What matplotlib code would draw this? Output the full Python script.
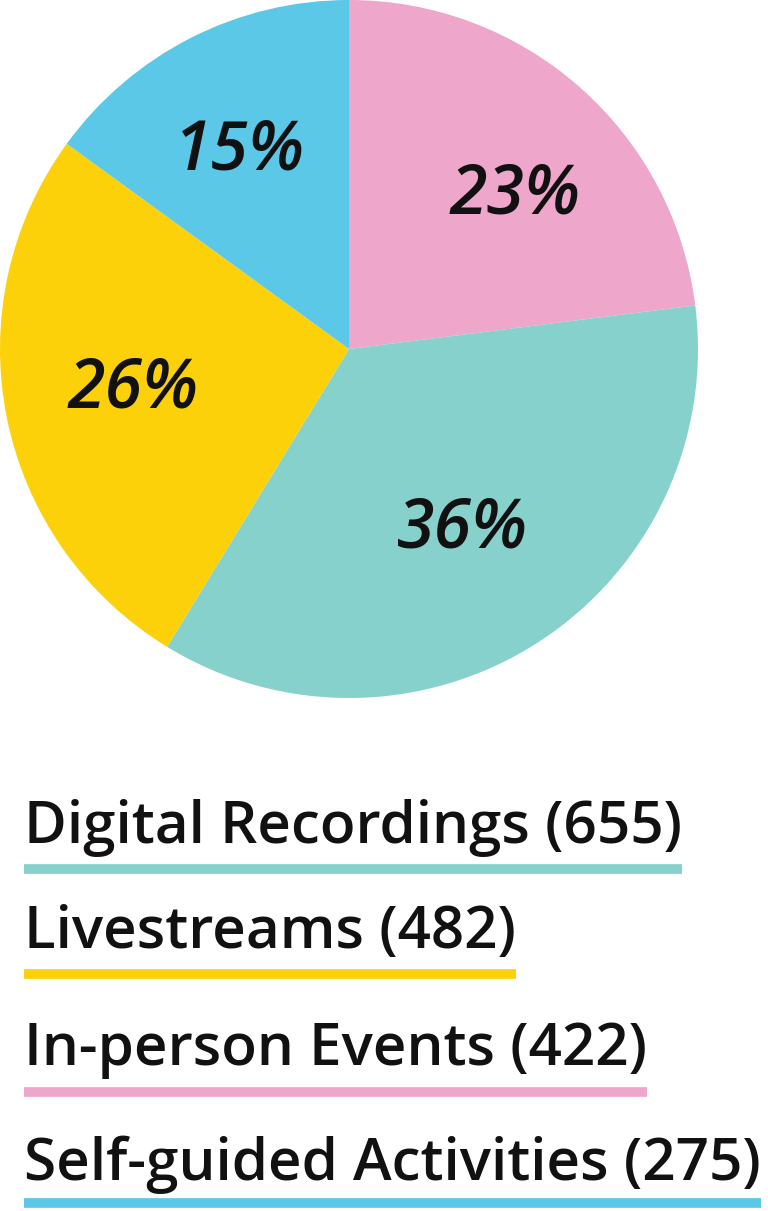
import matplotlib
matplotlib.use("Agg")
import matplotlib.pyplot as plt
from matplotlib.lines import Line2D

categories = ["In-person Events", "Digital Recordings", "Livestreams", "Self-guided Activities"]
counts = [422, 655, 482, 275]
colors = ["#EEA6CB", "#87D1CC", "#FDD10A", "#5BC8E7"]
legend_order = ["Digital Recordings", "Livestreams", "In-person Events", "Self-guided Activities"]

W, H = 768, 1211
CX, CY, R = 349, 349, 349  # pie centre / radius in pixels
fig = plt.figure(figsize=(W / 100, H / 100), dpi=100)
fig.patch.set_facecolor("white")

ax = fig.add_axes([(CX - R) / W, 1 - (CY + R) / H, 2 * R / W, 2 * R / H])
wedges, texts, autotexts = ax.pie(
    counts, colors=colors, startangle=90, counterclock=False,
    autopct=lambda p: f"{p:.0f}%", pctdistance=0.64,
    wedgeprops=dict(linewidth=0), radius=1.0,
)
# label centres (pixel layout)
label_px = [(515, 187), (462, 521), (133, 381), (239, 144)]
for t, (px, py) in zip(autotexts, label_px):
    t.set_fontfamily("Open Sans")
    t.set_fontstyle("italic")
    t.set_fontweight("semibold")
    t.set_fontsize(49)
    t.set_color("#111111")
    t.set_position(((px - CX) / R, (CY - py) / R))
    t.set_va("center_baseline")
ax.set_aspect("equal")
ax.set_xlim(-1, 1)
ax.set_ylim(-1, 1)

baselines = [843, 948, 1065, 1180]
lines_y = [869, 974, 1092, 1203]
fig.canvas.draw()
renderer = fig.canvas.get_renderer()
for name, by, ly in zip(legend_order, baselines, lines_y):
    i = categories.index(name)
    t = fig.text(24 / W, 1 - by / H, f"{name} ({counts[i]})", fontsize=42,
                 fontfamily="Open Sans", fontweight="semibold", color="#111111",
                 ha="left", va="baseline")
    bb = t.get_window_extent(renderer=renderer)
    x1 = bb.x1 / W
    fig.add_artist(Line2D([24 / W, x1], [1 - ly / H, 1 - ly / H],
                          transform=fig.transFigure, color=colors[i],
                          linewidth=7, solid_capstyle="butt"))

fig.savefig("out.png", dpi=100, facecolor="white")
